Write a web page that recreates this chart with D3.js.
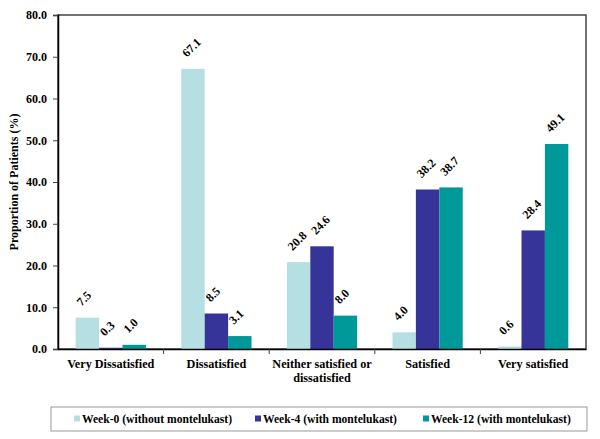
<!DOCTYPE html>
<html><head><meta charset="utf-8">
<script src="https://cdn.jsdelivr.net/npm/d3@7"></script>
<style>body{margin:0;background:#fff}svg{display:block}</style>
</head><body><svg id="c" width="600" height="439" font-family="'Liberation Serif', 'Times New Roman', Times, 'DejaVu Serif', serif" font-weight="bold"></svg>
<script>
const categories = ["Very Dissatisfied","Dissatisfied","Neither satisfied or dissatisfied","Satisfied","Very satisfied"];
const categoryLines = [["Very Dissatisfied"],["Dissatisfied"],["Neither satisfied or","dissatisfied"],["Satisfied"],["Very satisfied"]];
const seriesNames = ["Week-0 (without montelukast)","Week-4 (with montelukast)","Week-12 (with montelukast)"];
const week0 = [7.5,67.1,20.8,4.0,0.6];
const week4 = [0.3,8.5,24.6,38.2,28.4];
const week12 = [1.0,3.1,8.0,38.7,49.1];
const yTicks = [0,10,20,30,40,50,60,70,80];
const colors = ["#b5dfe2","#363399","#009999"];
const series = [week0,week4,week12];
const FONT = "'Liberation Serif', 'Times New Roman', Times, 'DejaVu Serif', serif";

const svg = d3.select("#c");
const L=58,R=586,T=15,B=349;
const x = d3.scaleBand().domain(categories).range([L,R]).paddingInner(0.335).paddingOuter(0.1675);
const xs = d3.scaleBand().domain(d3.range(3)).range([0,x.bandwidth()]);
const y = d3.scaleLinear().domain([0,80]).range([B,T]);

// frame
svg.append("rect").attr("x",L).attr("y",T).attr("width",R-L).attr("height",B-T).attr("fill","none").attr("stroke","#444").attr("stroke-width",1.5);

// bars
categories.forEach((c,i)=>{
  series.forEach((s,j)=>{
    const bx = x(c)+xs(j);
    svg.append("rect").attr("x",bx).attr("y",y(s[i])).attr("width",xs.bandwidth()).attr("height",B-y(s[i])).attr("fill",colors[j]);
    const lx0 = bx+xs.bandwidth()/2-6, ly0=y(s[i])-11;
    svg.append("text").attr("x",lx0).attr("y",ly0)
      .attr("transform","rotate(-45 "+lx0.toFixed(2)+" "+ly0.toFixed(2)+")")
      .attr("font-size",12).attr("fill","#000").text(s[i].toFixed(1));
  });
});

// y axis
const ya = svg.append("g").attr("transform",`translate(${L},0)`).call(d3.axisLeft(y).tickValues(yTicks).tickFormat(d3.format(".1f")).tickSize(5).tickPadding(6));
ya.attr("font-family",FONT).attr("font-size",12).attr("font-weight","bold");
ya.select(".domain").attr("stroke","#000").attr("stroke-width",1.5);
ya.selectAll("text").attr("fill","#000");
ya.selectAll("line").attr("stroke","#444");

// x axis
const xa = svg.append("g").attr("transform",`translate(0,${B})`).call(d3.axisBottom(x).tickSize(0).tickFormat(""));
xa.select(".domain").attr("stroke","#000").attr("stroke-width",1.5);
const bounds = categories.slice(1).map(c=>x(c)-x.step()*x.paddingInner()/2);
svg.selectAll(".xt").data(bounds).enter().append("line").attr("x1",d=>d).attr("x2",d=>d).attr("y1",B).attr("y2",B+5).attr("stroke","#444");
categories.forEach((c,i)=>{
  const t = svg.append("text").attr("x",x(c)+x.bandwidth()/2).attr("y",368).attr("text-anchor","middle").attr("font-size",12.2).attr("fill","#000");
  categoryLines[i].forEach((ln,k)=>t.append("tspan").attr("x",x(c)+x.bandwidth()/2).attr("dy",k?14:0).text(ln));
});

// y title
svg.append("text").attr("transform",`translate(18,${(T+B)/2}) rotate(-90)`).attr("text-anchor","middle").attr("font-size",12).attr("fill","#000").text("Proportion of Patients (%)");

// legend
svg.append("rect").attr("x",51).attr("y",407).attr("width",536).attr("height",24).attr("fill","#fff").attr("stroke","#999").attr("stroke-width",1);
const lx = [74,255,423];
seriesNames.forEach((n,j)=>{
  svg.append("rect").attr("x",lx[j]).attr("y",415.5).attr("width",6).attr("height",6).attr("fill",colors[j]);
  svg.append("text").attr("x",lx[j]+8).attr("y",423).attr("font-size",11.6).attr("fill","#000").text(n);
});
</script></body></html>
